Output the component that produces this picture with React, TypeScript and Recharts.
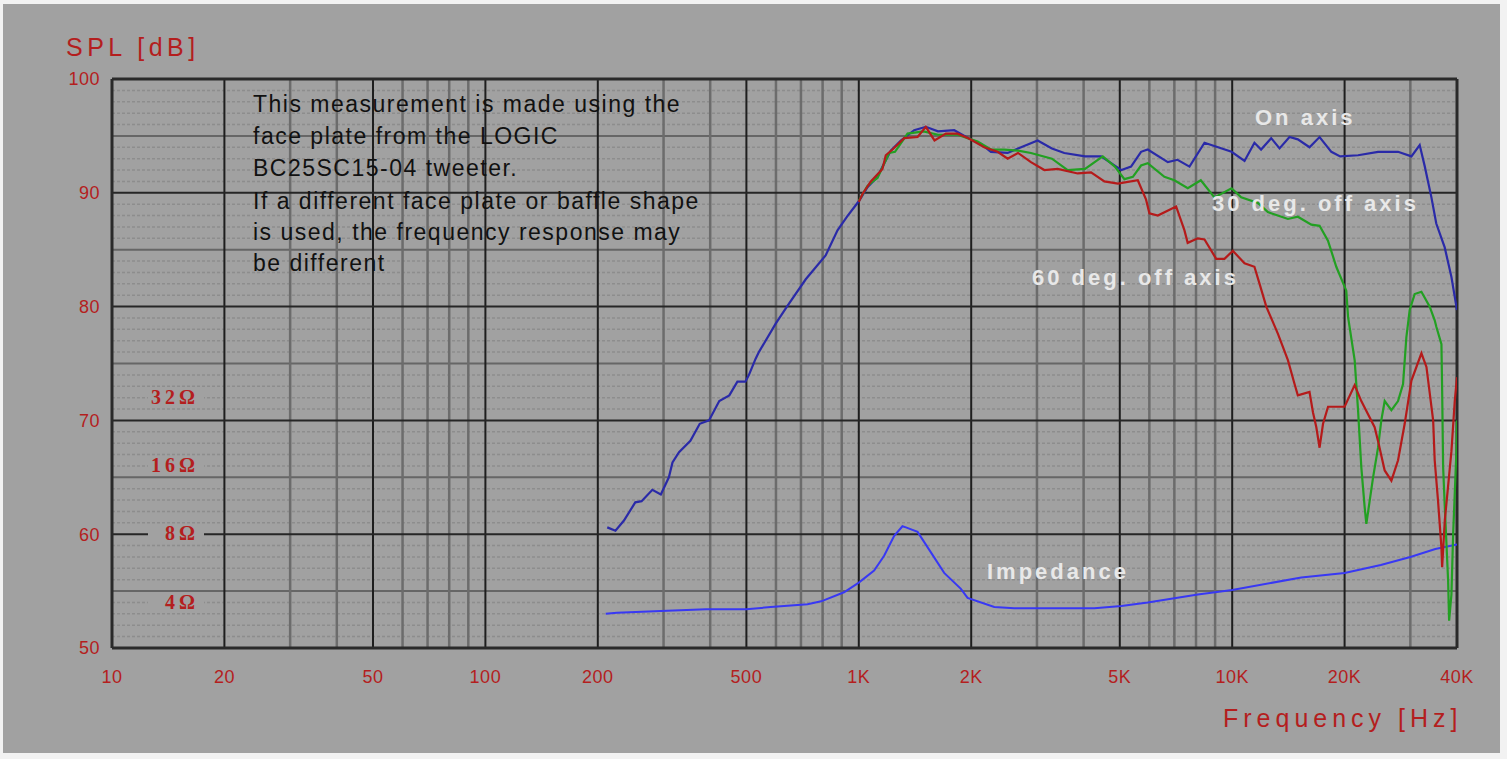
import React from 'react';
import { LineChart, Line, XAxis, YAxis, CartesianGrid } from 'recharts';

// [frequency Hz, SPL dB]
const onAxis: [number, number][] = [
  [212, 60.6], [223, 60.3], [235, 61.2], [252, 62.8], [262, 62.9], [280, 63.9], [295, 63.5],
  [310, 65.0], [317, 66.3], [330, 67.2], [354, 68.2], [375, 69.7], [397, 70.0], [423, 71.7],
  [450, 72.2], [473, 73.4], [497, 73.4], [508, 74.0], [529, 75.4], [540, 76.0], [599, 78.5],
  [642, 80.0], [721, 82.4], [815, 84.5], [877, 86.7], [930, 87.9], [1002, 89.3], [1055, 90.5],
  [1122, 91.4], [1157, 92.3], [1218, 93.7], [1296, 94.6], [1407, 95.5], [1512, 95.8],
  [1630, 95.4], [1801, 95.5], [1966, 94.8], [2124, 94.3], [2259, 93.6], [2504, 93.5],
  [2670, 93.9], [3013, 94.6], [3290, 93.9], [3551, 93.5], [4036, 93.2], [4455, 93.2],
  [5050, 92.0], [5360, 92.3], [5700, 93.6], [5940, 93.8], [6723, 92.7], [7140, 92.9],
  [7685, 92.3], [8430, 94.4], [9960, 93.6], [10790, 92.8], [11470, 94.4], [11950, 93.8],
  [12720, 94.8], [13390, 93.9], [14240, 94.9], [14990, 94.7], [16110, 94.0], [17140, 94.9],
  [18430, 93.6], [19460, 93.2], [21730, 93.3], [24580, 93.6], [27810, 93.6], [30200, 93.2],
  [31780, 94.2], [32800, 92.3], [34160, 89.6], [35200, 87.3], [37080, 85.2], [38650, 82.6],
  [40000, 79.7],
];

const offAxis30: [number, number][] = [
  [1000, 89.3], [1055, 90.6], [1090, 91.0], [1122, 91.3], [1206, 93.5], [1250, 93.6],
  [1351, 95.2], [1490, 95.4], [1630, 95.1], [1839, 95.1], [2081, 94.5], [2259, 93.8],
  [2452, 93.8], [2670, 93.7], [2891, 93.5], [3290, 93.0], [3626, 92.0], [4036, 92.1],
  [4502, 93.2], [4850, 92.3], [5145, 91.2], [5420, 91.4], [5700, 92.4], [5940, 92.6],
  [6583, 91.4], [7000, 91.1], [7605, 90.4], [8240, 91.1], [8963, 89.6], [9960, 90.4],
  [10570, 89.6], [11720, 89.1], [12460, 88.3], [14100, 87.7], [14990, 87.9], [16290, 87.2],
  [17140, 87.1], [18050, 85.8], [19000, 83.5], [20210, 81.4], [20430, 79.1], [21280, 75.3],
  [21730, 70.9], [22170, 65.9], [22630, 62.4], [22870, 60.9], [23340, 62.9], [23840, 65.0],
  [24580, 67.6], [25080, 70.0], [25610, 71.7], [26690, 70.9], [27810, 71.7], [28680, 73.2],
  [29270, 77.3], [29880, 79.7], [30810, 81.1], [32120, 81.3], [33810, 80.0], [34860, 78.8],
  [35230, 78.2], [36340, 76.7], [36500, 72.6], [36720, 65.9], [37100, 62.4], [37870, 55.9],
  [38100, 52.4], [38650, 54.7], [39060, 60.0], [39860, 67.3], [40000, 70.0],
];

const offAxis60: [number, number][] = [
  [1000, 89.2], [1023, 89.9], [1077, 91.0], [1157, 92.1], [1181, 93.3], [1231, 93.8],
  [1323, 94.8], [1437, 94.9], [1512, 95.8], [1595, 94.6], [1711, 95.2], [1839, 95.2],
  [1966, 94.8], [2167, 94.0], [2354, 93.6], [2504, 93.0], [2670, 93.5], [2891, 92.7],
  [3140, 92.0], [3410, 92.1], [3857, 91.7], [4188, 91.8], [4547, 91.0], [4940, 90.8],
  [5587, 91.1], [5880, 89.4], [6002, 88.2], [6321, 88.0], [7077, 88.8], [7450, 86.7],
  [7600, 85.6], [8090, 86.0], [8430, 85.9], [9060, 84.2], [9537, 84.2], [10040, 84.9],
  [10790, 83.8], [11470, 83.5], [11840, 82.0], [12340, 80.0], [13260, 77.6], [14100, 75.3],
  [14690, 73.2], [14990, 72.2], [16110, 72.5], [16460, 70.7], [16800, 69.4], [17140, 67.6],
  [17510, 69.7], [18060, 71.2], [20000, 71.2], [21280, 73.1], [22170, 71.7], [24070, 69.4],
  [24580, 68.2], [25610, 65.6], [26690, 64.7], [27810, 66.5], [28970, 69.7], [30200, 73.5],
  [32120, 75.9], [33130, 74.7], [34530, 70.0], [34860, 66.5], [35590, 62.9], [36340, 58.8],
  [36500, 57.1], [37100, 61.2], [38650, 67.3], [39450, 71.7], [40000, 73.8],
];

const impedance: [number, number][] = [
  [210, 53.0], [225, 53.1], [295, 53.25], [390, 53.4], [500, 53.4], [581, 53.6], [729, 53.85],
  [793, 54.1], [913, 54.9], [1000, 55.75], [1099, 56.8], [1169, 58.1], [1244, 59.85],
  [1309, 60.7], [1337, 60.6], [1437, 60.2], [1560, 58.4], [1693, 56.6], [1877, 55.2],
  [1956, 54.4], [2306, 53.6], [2608, 53.5], [4275, 53.5], [5050, 53.7], [5940, 54.0],
  [8090, 54.7], [10000, 55.1], [15310, 56.2], [20000, 56.6], [25000, 57.3], [30000, 58.0],
  [35000, 58.7], [40000, 59.1],
];

const xTicks = [10, 20, 50, 100, 200, 500, 1000, 2000, 5000, 10000, 20000, 40000];
const yTicks = [50, 60, 70, 80, 90, 100];
const majorX = [20, 50, 100, 200, 500, 1000, 2000, 5000, 10000, 20000];
const minorX = [30, 40, 60, 70, 80, 90, 300, 400, 600, 700, 800, 900, 3000, 4000, 6000, 7000, 8000, 9000, 30000];
const majorY = [60, 70, 80, 90];
const midY = [55, 65, 75, 85, 95];
const fineY = [
  51, 52, 53, 54, 56, 57, 58, 59, 61, 62, 63, 64, 66, 67, 68, 69, 71, 72, 73, 74,
  76, 77, 78, 79, 81, 82, 83, 84, 86, 87, 88, 89, 91, 92, 93, 94, 96, 97, 98, 99,
];
const noteLines = [
  'This measurement is made using the',
  'face plate from the LOGIC',
  'BC25SC15-04 tweeter.',
  'If a different face plate or baffle shape',
  'is used, the frequency response may',
  'be different',
];
const ohmLabels = ['32Ω', '16Ω', '8Ω', '4Ω'];

const toPoints = (arr: [number, number][]) => arr.map(([f, db]) => ({ f, db }));

const BG = '#a1a1a1';
const RED = '#b41e1e';
const LABEL = '#e8e8e8';

const fmtHz = (v: number) => (v >= 1000 ? `${v / 1000}K` : `${v}`);

const App: React.FC = () => {
  const noteBaselines = [112, 144, 176, 209, 240, 271];
  const ohmBaselines = [404, 472, 540, 609];
  const ohmLines = [397, 465, 533, 602];

  return (
    <div style={{ position: 'absolute', left: 0, top: 0, width: 1507, height: 759, background: '#f2f2f2' }}>
      <div style={{ position: 'absolute', left: 3, top: 4, width: 1497, height: 749, background: BG }} />
      <div style={{ position: 'absolute', left: 0, top: 0 }}>
        <LineChart width={1507} height={759} margin={{ top: 79, right: 50, bottom: 0, left: 0 }}>
          <CartesianGrid horizontal horizontalValues={fineY} vertical={false} stroke="#8d8d8d" strokeWidth={1.5} strokeDasharray="3 2" />
          <CartesianGrid horizontal horizontalValues={midY} vertical={false} stroke="#666" strokeWidth={2} />
          <CartesianGrid horizontal={false} vertical verticalValues={minorX} stroke="#6c6c6c" strokeWidth={2.5} />
          <CartesianGrid horizontal={false} vertical verticalValues={majorX} stroke="#1e1e1e" strokeWidth={2} />
          <CartesianGrid horizontal horizontalValues={majorY} vertical={false} stroke="#262626" strokeWidth={2} />
          <CartesianGrid horizontal horizontalValues={[50, 100]} vertical verticalValues={[10, 40000]} stroke="#2a2a2a" strokeWidth={3} />
          <XAxis
            dataKey="f"
            type="number"
            scale="log"
            domain={[10, 40000]}
            allowDataOverflow
            ticks={xTicks}
            tickFormatter={fmtHz}
            axisLine={false}
            tickLine={false}
            tickSize={0}
            tickMargin={22}
            height={111}
            interval={0}
            tick={{ fill: RED, fontSize: 18, fontFamily: 'Liberation Sans', letterSpacing: 0.5 }}
          />
          <YAxis
            type="number"
            domain={[50, 100]}
            allowDataOverflow
            ticks={yTicks}
            width={112}
            axisLine={false}
            tickLine={false}
            tickSize={0}
            tickMargin={12}
            interval={0}
            tick={{ fill: RED, fontSize: 18, fontFamily: 'Liberation Sans', letterSpacing: 0.5 }}
          />
          <Line data={toPoints(impedance)} dataKey="db" type="linear" stroke="#3838f4" strokeWidth={2} dot={false} isAnimationActive={false} />
          <Line data={toPoints(onAxis)} dataKey="db" type="linear" stroke="#2a2aa8" strokeWidth={2.2} dot={false} isAnimationActive={false} />
          <Line data={toPoints(offAxis30)} dataKey="db" type="linear" stroke="#22a022" strokeWidth={2.2} dot={false} isAnimationActive={false} />
          <Line data={toPoints(offAxis60)} dataKey="db" type="linear" stroke="#b51a1a" strokeWidth={2.2} dot={false} isAnimationActive={false} />
        </LineChart>
      </div>
      <svg width={1507} height={759} style={{ position: 'absolute', left: 0, top: 0, pointerEvents: 'none' }}>
        <text x={66} y={56} fill={RED} fontSize={25} fontFamily="Liberation Sans" letterSpacing={4.5}>SPL [dB]</text>
        <text x={1223} y={727} fill={RED} fontSize={25} fontFamily="Liberation Sans" letterSpacing={5}>Frequency [Hz]</text>
        {ohmLabels.map((t, i) => (
          <g key={t}>
            <rect x={148} y={ohmLines[i] - 6} width={56} height={12} fill={BG} />
            <text x={199} y={ohmBaselines[i]} fill={RED} fontSize={20} fontFamily="Liberation Serif" fontWeight="bold" letterSpacing={4} textAnchor="end">{t}</text>
          </g>
        ))}
        {noteLines.map((t, i) => (
          <text key={t} x={253} y={noteBaselines[i]} fill="#111" fontSize={23} fontFamily="Liberation Sans" letterSpacing={1.5}>{t}</text>
        ))}
        <text x={1255} y={125} fill={LABEL} fontSize={22} fontWeight="bold" fontFamily="Liberation Sans" letterSpacing={3}>On axis</text>
        <text x={1212} y={211} fill={LABEL} fontSize={22} fontWeight="bold" fontFamily="Liberation Sans" letterSpacing={3}>30 deg. off axis</text>
        <text x={1032} y={285} fill={LABEL} fontSize={22} fontWeight="bold" fontFamily="Liberation Sans" letterSpacing={3}>60 deg. off axis</text>
        <text x={987} y={579} fill={LABEL} fontSize={22} fontWeight="bold" fontFamily="Liberation Sans" letterSpacing={3}>Impedance</text>
      </svg>
    </div>
  );
};

export default App;
